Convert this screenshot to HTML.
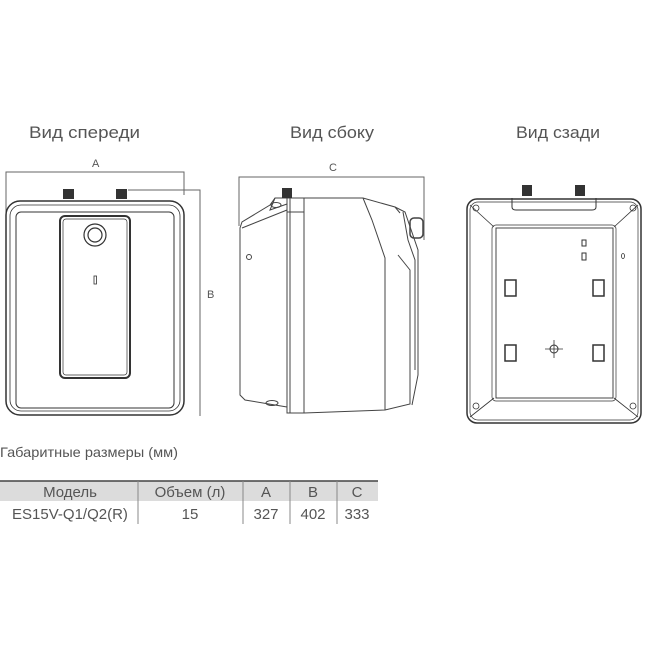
<!DOCTYPE html>
<html><head><meta charset="utf-8"><style>
html,body{margin:0;padding:0;background:#fff;}
svg{display:block;}
text{font-family:"Liberation Sans",sans-serif;fill:#555;}
</style></head><body>
<svg width="650" height="650" viewBox="0 0 650 650" xmlns="http://www.w3.org/2000/svg">
<g font-size="17">
<text x="29" y="138" textLength="111" lengthAdjust="spacingAndGlyphs">Вид спереди</text>
<text x="290" y="138" textLength="84" lengthAdjust="spacingAndGlyphs">Вид сбоку</text>
<text x="516" y="138" textLength="84" lengthAdjust="spacingAndGlyphs">Вид сзади</text>
</g>
<g font-size="11">
<text x="92" y="167">A</text>
<text x="329" y="171">C</text>
<text x="207" y="298">B</text>
</g>
<!-- front view -->
<g fill="none" stroke="#666" stroke-width="1">
<path d="M6 222 V172 H184 V195"/>
<path d="M128 190 H200 V416"/>
</g>
<g stroke="#333" fill="none">
<rect x="6" y="201" width="178" height="214" rx="14" stroke-width="1.5"/>
<rect x="10" y="205" width="170" height="206" rx="11" stroke-width="0.8"/>
<rect x="16" y="212" width="158" height="196" rx="5" stroke-width="1"/>
<rect x="60" y="216" width="70" height="162" rx="5" stroke-width="2"/>
<rect x="63" y="219" width="64" height="156" rx="3" stroke-width="0.7"/>
<circle cx="95" cy="235" r="11" stroke-width="1.2"/>
<circle cx="95" cy="235" r="7" stroke-width="1.2"/>
<rect x="94" y="276" width="2.5" height="8" stroke-width="0.8"/>
</g>
<rect x="63" y="189" width="11" height="10" fill="#333"/>
<rect x="116" y="189" width="11" height="10" fill="#333"/>
<!-- side view -->
<g fill="none" stroke="#666" stroke-width="1">
<path d="M239 226 V177 H424 V240"/>
</g>
<g stroke="#444" fill="none" stroke-width="1">
<path d="M287 198 L275 198 L270 205 L242 222 L240 228 L240 395 L245 400 L287 407"/>
<path d="M275 198 L270 210 L287 204"/>
<path d="M242 228 L287 210"/>
<ellipse cx="276" cy="205" rx="5" ry="2.5"/>
<ellipse cx="272" cy="403" rx="6" ry="2.5"/>
<circle cx="249" cy="257" r="2.5"/>
<rect x="287" y="198" width="17" height="215"/>
<line x1="290" y1="198" x2="290" y2="413"/>
<line x1="287" y1="212" x2="304" y2="212"/>
<path d="M304 198 H363 L395 207 L400 213"/>
<path d="M304 413 L385 410 L410 404 V270 L398 255"/>
<path d="M363 198 L372 220 L385 258 L385 410"/>
<path d="M395 207 L405 212 L418 250 V375 L412 405"/>
<path d="M403 212 L408 240 L415 260 V370"/>
<rect x="410" y="218" width="13" height="20" rx="4" stroke-width="1.5"/>
</g>
<rect x="282" y="188" width="10" height="10" fill="#333"/>
<!-- back view -->
<g stroke="#333" fill="none">
<rect x="467" y="199" width="174" height="224" rx="10" stroke-width="1.5"/>
<rect x="470" y="202" width="168" height="218" rx="8" stroke-width="0.7"/>
<rect x="496" y="228" width="117" height="170" stroke-width="0.9"/>
<rect x="492" y="225" width="124" height="176" rx="4" stroke-width="0.7"/>
<path d="M470 205 L494 227 M638 205 L614 227 M470 417 L494 398 M638 417 L614 398" stroke-width="0.8"/>
<path d="M512 198 V207 Q512 210 516 210 H592 Q596 210 596 207 V198" stroke-width="1"/>
<rect x="505" y="280" width="11" height="16" stroke-width="1.5"/>
<rect x="593" y="280" width="11" height="16" stroke-width="1.5"/>
<rect x="505" y="345" width="11" height="16" stroke-width="1.5"/>
<rect x="593" y="345" width="11" height="16" stroke-width="1.5"/>
<rect x="582" y="240" width="4" height="6" stroke-width="1"/>
<rect x="582" y="253" width="4" height="7" stroke-width="1"/>
<circle cx="554" cy="349" r="4" stroke-width="1"/>
<path d="M545 349 H563 M554 340 V358" stroke-width="0.8"/>
<circle cx="476" cy="208" r="3" stroke-width="0.8"/>
<circle cx="633" cy="208" r="3" stroke-width="0.8"/>
<circle cx="476" cy="406" r="3" stroke-width="0.8"/>
<circle cx="633" cy="406" r="3" stroke-width="0.8"/>
<ellipse cx="623" cy="256" rx="1.5" ry="2.5" stroke-width="0.8"/>
</g>
<rect x="522" y="185" width="10" height="11" fill="#333"/>
<rect x="575" y="185" width="10" height="11" fill="#333"/>
<!-- table -->
<text x="0" y="457" font-size="14" textLength="178" lengthAdjust="spacingAndGlyphs">Габаритные размеры (мм)</text>
<rect x="0" y="481" width="378" height="20" fill="#dcdcdc"/>
<line x1="0" y1="481" x2="378" y2="481" stroke="#444" stroke-width="1.5"/>
<g stroke="#888" stroke-width="1">
<line x1="138" y1="481" x2="138" y2="524"/>
<line x1="243" y1="481" x2="243" y2="524"/>
<line x1="290" y1="481" x2="290" y2="524"/>
<line x1="337" y1="481" x2="337" y2="524"/>
</g>
<g font-size="15" text-anchor="middle">
<text x="70" y="497">Модель</text>
<text x="190" y="497">Объем (л)</text>
<text x="266" y="497">A</text>
<text x="313" y="497">B</text>
<text x="357" y="497">C</text>
<text x="70" y="519">ES15V-Q1/Q2(R)</text>
<text x="190" y="519">15</text>
<text x="266" y="519">327</text>
<text x="313" y="519">402</text>
<text x="357" y="519">333</text>
</g>
</svg>
</body></html>
